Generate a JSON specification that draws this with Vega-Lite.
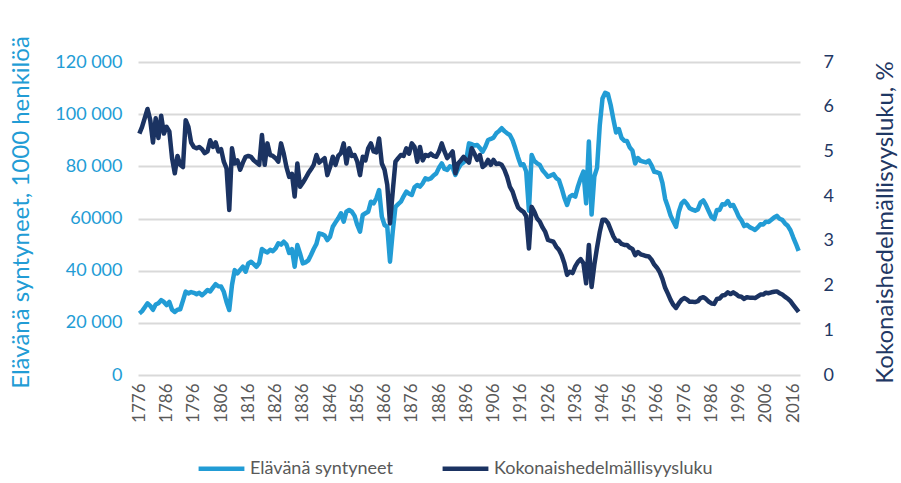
{
"$schema": "https://vega.github.io/schema/vega-lite/v6.json",
"width": 662, "height": 313,
"autosize": {"type": "none"},
"padding": {"left": 138, "top": 62, "right": 101, "bottom": 108},
"background": "white",
"config": {"view": {"stroke": null}, "font": "Lato"},
"data": {"values": [
{"vuosi":1776,"syntyneet":23600,"tfr":5.40},{"vuosi":1777,"syntyneet":24500,"tfr":5.55},{"vuosi":1778,"syntyneet":26000,"tfr":5.75},{"vuosi":1779,"syntyneet":27500,"tfr":5.95},{"vuosi":1780,"syntyneet":26500,"tfr":5.70},
{"vuosi":1781,"syntyneet":25000,"tfr":5.20},{"vuosi":1782,"syntyneet":27000,"tfr":5.74},{"vuosi":1783,"syntyneet":27500,"tfr":5.30},{"vuosi":1784,"syntyneet":28700,"tfr":5.80},{"vuosi":1785,"syntyneet":28000,"tfr":5.40},
{"vuosi":1786,"syntyneet":26800,"tfr":5.55},{"vuosi":1787,"syntyneet":28000,"tfr":5.45},{"vuosi":1788,"syntyneet":25000,"tfr":4.85},{"vuosi":1789,"syntyneet":24200,"tfr":4.51},{"vuosi":1790,"syntyneet":25000,"tfr":4.90},
{"vuosi":1791,"syntyneet":25200,"tfr":4.70},{"vuosi":1792,"syntyneet":28500,"tfr":4.65},{"vuosi":1793,"syntyneet":32000,"tfr":5.70},{"vuosi":1794,"syntyneet":31300,"tfr":5.55},{"vuosi":1795,"syntyneet":31800,"tfr":5.20},
{"vuosi":1796,"syntyneet":31500,"tfr":5.10},{"vuosi":1797,"syntyneet":31000,"tfr":5.07},{"vuosi":1798,"syntyneet":31500,"tfr":5.10},{"vuosi":1799,"syntyneet":30600,"tfr":5.05},{"vuosi":1800,"syntyneet":31500,"tfr":4.96},
{"vuosi":1801,"syntyneet":32600,"tfr":5.00},{"vuosi":1802,"syntyneet":32000,"tfr":5.25},{"vuosi":1803,"syntyneet":33500,"tfr":5.10},{"vuosi":1804,"syntyneet":34800,"tfr":5.20},{"vuosi":1805,"syntyneet":34000,"tfr":5.00},
{"vuosi":1806,"syntyneet":33900,"tfr":5.05},{"vuosi":1807,"syntyneet":31900,"tfr":4.77},{"vuosi":1808,"syntyneet":28000,"tfr":4.62},{"vuosi":1809,"syntyneet":24900,"tfr":3.69},{"vuosi":1810,"syntyneet":34500,"tfr":5.07},
{"vuosi":1811,"syntyneet":40200,"tfr":4.73},{"vuosi":1812,"syntyneet":39000,"tfr":4.80},{"vuosi":1813,"syntyneet":40300,"tfr":4.59},{"vuosi":1814,"syntyneet":41500,"tfr":4.75},{"vuosi":1815,"syntyneet":39600,"tfr":4.88},
{"vuosi":1816,"syntyneet":42800,"tfr":4.90},{"vuosi":1817,"syntyneet":43400,"tfr":4.88},{"vuosi":1818,"syntyneet":42500,"tfr":4.80},{"vuosi":1819,"syntyneet":41500,"tfr":4.75},{"vuosi":1820,"syntyneet":43000,"tfr":4.70},
{"vuosi":1821,"syntyneet":48300,"tfr":5.37},{"vuosi":1822,"syntyneet":47500,"tfr":4.70},{"vuosi":1823,"syntyneet":47000,"tfr":5.18},{"vuosi":1824,"syntyneet":48000,"tfr":4.92},{"vuosi":1825,"syntyneet":47500,"tfr":4.90},
{"vuosi":1826,"syntyneet":48500,"tfr":4.85},{"vuosi":1827,"syntyneet":50500,"tfr":4.77},{"vuosi":1828,"syntyneet":50000,"tfr":5.18},{"vuosi":1829,"syntyneet":51100,"tfr":4.95},{"vuosi":1830,"syntyneet":50000,"tfr":4.65},
{"vuosi":1831,"syntyneet":46800,"tfr":4.43},{"vuosi":1832,"syntyneet":48300,"tfr":4.50},{"vuosi":1833,"syntyneet":41500,"tfr":3.99},{"vuosi":1834,"syntyneet":49800,"tfr":4.73},{"vuosi":1835,"syntyneet":46500,"tfr":4.21},
{"vuosi":1836,"syntyneet":42800,"tfr":4.30},{"vuosi":1837,"syntyneet":43200,"tfr":4.40},{"vuosi":1838,"syntyneet":43950,"tfr":4.51},{"vuosi":1839,"syntyneet":46000,"tfr":4.60},{"vuosi":1840,"syntyneet":48300,"tfr":4.70},
{"vuosi":1841,"syntyneet":50250,"tfr":4.92},{"vuosi":1842,"syntyneet":54300,"tfr":4.75},{"vuosi":1843,"syntyneet":54000,"tfr":4.80},{"vuosi":1844,"syntyneet":53500,"tfr":4.85},{"vuosi":1845,"syntyneet":51750,"tfr":4.47},
{"vuosi":1846,"syntyneet":53000,"tfr":4.65},{"vuosi":1847,"syntyneet":56850,"tfr":4.88},{"vuosi":1848,"syntyneet":58500,"tfr":4.70},{"vuosi":1849,"syntyneet":60100,"tfr":4.90},{"vuosi":1850,"syntyneet":62000,"tfr":4.96},
{"vuosi":1851,"syntyneet":58800,"tfr":5.18},{"vuosi":1852,"syntyneet":62600,"tfr":4.73},{"vuosi":1853,"syntyneet":63250,"tfr":5.07},{"vuosi":1854,"syntyneet":62600,"tfr":4.90},{"vuosi":1855,"syntyneet":61000,"tfr":4.92},
{"vuosi":1856,"syntyneet":57500,"tfr":4.77},{"vuosi":1857,"syntyneet":54950,"tfr":4.47},{"vuosi":1858,"syntyneet":61350,"tfr":4.88},{"vuosi":1859,"syntyneet":62000,"tfr":4.80},{"vuosi":1860,"syntyneet":62600,"tfr":5.07},
{"vuosi":1861,"syntyneet":66450,"tfr":5.18},{"vuosi":1862,"syntyneet":65800,"tfr":5.00},{"vuosi":1863,"syntyneet":67750,"tfr":4.98},{"vuosi":1864,"syntyneet":70900,"tfr":5.29},{"vuosi":1865,"syntyneet":60700,"tfr":4.73},
{"vuosi":1866,"syntyneet":57500,"tfr":4.59},{"vuosi":1867,"syntyneet":56850,"tfr":4.25},{"vuosi":1868,"syntyneet":43450,"tfr":3.39},{"vuosi":1869,"syntyneet":54950,"tfr":4.10},{"vuosi":1870,"syntyneet":64500,"tfr":4.77},
{"vuosi":1871,"syntyneet":65500,"tfr":4.85},{"vuosi":1872,"syntyneet":66450,"tfr":4.92},{"vuosi":1873,"syntyneet":68500,"tfr":4.90},{"vuosi":1874,"syntyneet":70300,"tfr":5.07},{"vuosi":1875,"syntyneet":69500,"tfr":4.95},
{"vuosi":1876,"syntyneet":69000,"tfr":5.18},{"vuosi":1877,"syntyneet":72000,"tfr":5.10},{"vuosi":1878,"syntyneet":72850,"tfr":4.77},{"vuosi":1879,"syntyneet":72200,"tfr":5.10},{"vuosi":1880,"syntyneet":73500,"tfr":4.80},
{"vuosi":1881,"syntyneet":75400,"tfr":4.92},{"vuosi":1882,"syntyneet":75000,"tfr":4.90},{"vuosi":1883,"syntyneet":75400,"tfr":4.95},{"vuosi":1884,"syntyneet":76500,"tfr":4.90},{"vuosi":1885,"syntyneet":77300,"tfr":4.88},
{"vuosi":1886,"syntyneet":79500,"tfr":5.00},{"vuosi":1887,"syntyneet":81150,"tfr":5.18},{"vuosi":1888,"syntyneet":79000,"tfr":5.00},{"vuosi":1889,"syntyneet":78600,"tfr":4.85},{"vuosi":1890,"syntyneet":80000,"tfr":4.92},
{"vuosi":1891,"syntyneet":79500,"tfr":5.00},{"vuosi":1892,"syntyneet":76700,"tfr":4.51},{"vuosi":1893,"syntyneet":79000,"tfr":4.73},{"vuosi":1894,"syntyneet":80750,"tfr":4.80},{"vuosi":1895,"syntyneet":81500,"tfr":4.88},
{"vuosi":1896,"syntyneet":82450,"tfr":4.81},{"vuosi":1897,"syntyneet":88800,"tfr":4.75},{"vuosi":1898,"syntyneet":88500,"tfr":5.07},{"vuosi":1899,"syntyneet":88000,"tfr":4.95},{"vuosi":1900,"syntyneet":88200,"tfr":4.81},
{"vuosi":1901,"syntyneet":87000,"tfr":4.92},{"vuosi":1902,"syntyneet":85600,"tfr":4.65},{"vuosi":1903,"syntyneet":87500,"tfr":4.70},{"vuosi":1904,"syntyneet":90100,"tfr":4.81},{"vuosi":1905,"syntyneet":90500,"tfr":4.70},
{"vuosi":1906,"syntyneet":91000,"tfr":4.81},{"vuosi":1907,"syntyneet":92650,"tfr":4.72},{"vuosi":1908,"syntyneet":93500,"tfr":4.73},{"vuosi":1909,"syntyneet":94600,"tfr":4.70},{"vuosi":1910,"syntyneet":93500,"tfr":4.59},
{"vuosi":1911,"syntyneet":92650,"tfr":4.43},{"vuosi":1912,"syntyneet":92000,"tfr":4.21},{"vuosi":1913,"syntyneet":90000,"tfr":4.10},{"vuosi":1914,"syntyneet":86900,"tfr":3.91},{"vuosi":1915,"syntyneet":83500,"tfr":3.75},
{"vuosi":1916,"syntyneet":80500,"tfr":3.69},{"vuosi":1917,"syntyneet":80800,"tfr":3.65},{"vuosi":1918,"syntyneet":78000,"tfr":3.55},{"vuosi":1919,"syntyneet":63000,"tfr":2.83},{"vuosi":1920,"syntyneet":84350,"tfr":3.76},
{"vuosi":1921,"syntyneet":82000,"tfr":3.65},{"vuosi":1922,"syntyneet":81150,"tfr":3.50},{"vuosi":1923,"syntyneet":80500,"tfr":3.43},{"vuosi":1924,"syntyneet":78500,"tfr":3.30},{"vuosi":1925,"syntyneet":77300,"tfr":3.20},
{"vuosi":1926,"syntyneet":76000,"tfr":3.02},{"vuosi":1927,"syntyneet":76500,"tfr":3.00},{"vuosi":1928,"syntyneet":77000,"tfr":2.98},{"vuosi":1929,"syntyneet":75500,"tfr":2.87},{"vuosi":1930,"syntyneet":74750,"tfr":2.80},
{"vuosi":1931,"syntyneet":71600,"tfr":2.68},{"vuosi":1932,"syntyneet":68000,"tfr":2.50},{"vuosi":1933,"syntyneet":65200,"tfr":2.24},{"vuosi":1934,"syntyneet":68400,"tfr":2.31},{"vuosi":1935,"syntyneet":69000,"tfr":2.28},
{"vuosi":1936,"syntyneet":68400,"tfr":2.43},{"vuosi":1937,"syntyneet":72300,"tfr":2.53},{"vuosi":1938,"syntyneet":75400,"tfr":2.59},{"vuosi":1939,"syntyneet":78000,"tfr":2.50},{"vuosi":1940,"syntyneet":65800,"tfr":2.05},
{"vuosi":1941,"syntyneet":89500,"tfr":2.91},{"vuosi":1942,"syntyneet":61500,"tfr":1.97},{"vuosi":1943,"syntyneet":76100,"tfr":2.46},{"vuosi":1944,"syntyneet":79400,"tfr":2.85},{"vuosi":1945,"syntyneet":95700,"tfr":3.20},
{"vuosi":1946,"syntyneet":106000,"tfr":3.47},{"vuosi":1947,"syntyneet":108200,"tfr":3.47},{"vuosi":1948,"syntyneet":107700,"tfr":3.40},{"vuosi":1949,"syntyneet":103500,"tfr":3.25},{"vuosi":1950,"syntyneet":98000,"tfr":3.10},
{"vuosi":1951,"syntyneet":93000,"tfr":3.00},{"vuosi":1952,"syntyneet":94300,"tfr":3.00},{"vuosi":1953,"syntyneet":90900,"tfr":2.93},{"vuosi":1954,"syntyneet":89800,"tfr":2.91},{"vuosi":1955,"syntyneet":89700,"tfr":2.91},
{"vuosi":1956,"syntyneet":87300,"tfr":2.85},{"vuosi":1957,"syntyneet":86000,"tfr":2.82},{"vuosi":1958,"syntyneet":81100,"tfr":2.68},{"vuosi":1959,"syntyneet":83200,"tfr":2.75},{"vuosi":1960,"syntyneet":82100,"tfr":2.70},
{"vuosi":1961,"syntyneet":81800,"tfr":2.68},{"vuosi":1962,"syntyneet":81500,"tfr":2.66},{"vuosi":1963,"syntyneet":82200,"tfr":2.65},{"vuosi":1964,"syntyneet":80400,"tfr":2.58},{"vuosi":1965,"syntyneet":77900,"tfr":2.47},
{"vuosi":1966,"syntyneet":77700,"tfr":2.40},{"vuosi":1967,"syntyneet":77300,"tfr":2.30},{"vuosi":1968,"syntyneet":73700,"tfr":2.15},{"vuosi":1969,"syntyneet":67500,"tfr":1.95},{"vuosi":1970,"syntyneet":64500,"tfr":1.82},
{"vuosi":1971,"syntyneet":61100,"tfr":1.68},{"vuosi":1972,"syntyneet":58900,"tfr":1.57},{"vuosi":1973,"syntyneet":56800,"tfr":1.50},{"vuosi":1974,"syntyneet":62500,"tfr":1.60},{"vuosi":1975,"syntyneet":65700,"tfr":1.68},
{"vuosi":1976,"syntyneet":66800,"tfr":1.72},{"vuosi":1977,"syntyneet":65600,"tfr":1.69},{"vuosi":1978,"syntyneet":63900,"tfr":1.64},{"vuosi":1979,"syntyneet":63400,"tfr":1.64},{"vuosi":1980,"syntyneet":63000,"tfr":1.63},
{"vuosi":1981,"syntyneet":63500,"tfr":1.65},{"vuosi":1982,"syntyneet":66100,"tfr":1.72},{"vuosi":1983,"syntyneet":66900,"tfr":1.74},{"vuosi":1984,"syntyneet":65100,"tfr":1.70},{"vuosi":1985,"syntyneet":62800,"tfr":1.64},
{"vuosi":1986,"syntyneet":60600,"tfr":1.60},{"vuosi":1987,"syntyneet":59800,"tfr":1.59},{"vuosi":1988,"syntyneet":63300,"tfr":1.70},{"vuosi":1989,"syntyneet":63300,"tfr":1.71},{"vuosi":1990,"syntyneet":65500,"tfr":1.78},
{"vuosi":1991,"syntyneet":65400,"tfr":1.79},{"vuosi":1992,"syntyneet":66700,"tfr":1.85},{"vuosi":1993,"syntyneet":64800,"tfr":1.81},{"vuosi":1994,"syntyneet":65200,"tfr":1.85},{"vuosi":1995,"syntyneet":63100,"tfr":1.81},
{"vuosi":1996,"syntyneet":60700,"tfr":1.76},{"vuosi":1997,"syntyneet":59300,"tfr":1.75},{"vuosi":1998,"syntyneet":57100,"tfr":1.70},{"vuosi":1999,"syntyneet":57600,"tfr":1.74},{"vuosi":2000,"syntyneet":56700,"tfr":1.73},
{"vuosi":2001,"syntyneet":56200,"tfr":1.73},{"vuosi":2002,"syntyneet":55600,"tfr":1.72},{"vuosi":2003,"syntyneet":56600,"tfr":1.76},{"vuosi":2004,"syntyneet":57800,"tfr":1.80},{"vuosi":2005,"syntyneet":57700,"tfr":1.80},
{"vuosi":2006,"syntyneet":58800,"tfr":1.84},{"vuosi":2007,"syntyneet":58700,"tfr":1.83},{"vuosi":2008,"syntyneet":59500,"tfr":1.85},{"vuosi":2009,"syntyneet":60400,"tfr":1.86},{"vuosi":2010,"syntyneet":61000,"tfr":1.87},
{"vuosi":2011,"syntyneet":59900,"tfr":1.83},{"vuosi":2012,"syntyneet":59500,"tfr":1.80},{"vuosi":2013,"syntyneet":58100,"tfr":1.75},{"vuosi":2014,"syntyneet":57200,"tfr":1.71},{"vuosi":2015,"syntyneet":55500,"tfr":1.65},
{"vuosi":2016,"syntyneet":52800,"tfr":1.57},{"vuosi":2017,"syntyneet":50300,"tfr":1.49},{"vuosi":2018,"syntyneet":47600,"tfr":1.41}
]},
"encoding": {
  "x": {"field": "vuosi", "type": "quantitative",
    "scale": {"domain": [1775.5, 2018.5], "nice": false, "zero": false},
    "axis": {"values": [1776,1786,1796,1806,1816,1826,1836,1846,1856,1866,1876,1886,1896,1906,1916,1926,1936,1946,1956,1966,1976,1986,1996,2006,2016],
      "format": "d", "labelAngle": -90, "labelFont": "Lato", "labelFontSize": 17, "labelColor": "#595959",
      "labelPadding": 8, "labelOverlap": false, "ticks": false, "domain": false, "grid": false, "title": null}}
},
"layer": [
  {"mark": {"type": "line", "strokeWidth": 4.5, "strokeJoin": "round"},
   "encoding": {
     "y": {"field": "syntyneet", "type": "quantitative",
       "scale": {"domain": [0, 120000], "nice": false},
       "axis": {"values": [0,20000,40000,60000,80000,100000,120000],
         "labelExpr": "datum.value == 60000 ? '60000' : replace(format(datum.value, ','), ',', ' ')",
         "labelFont": "Lato", "labelFontSize": 18, "labelColor": "#229cd5", "labelPadding": 16,
         "ticks": false, "domain": false, "grid": true, "gridColor": "#d9d9d9", "gridWidth": 2,
         "title": "Elävänä syntyneet, 1000 henkilöä", "titleFont": "Lato", "titleFontSize": 24, "titleFontWeight": "normal",
         "titleColor": "#229cd5", "titleAngle": 270, "titleX": -117, "titleY": 150, "titleAlign": "center", "titleBaseline": "middle"}},
     "color": {"datum": "Elävänä syntyneet", "type": "nominal",
       "scale": {"domain": ["Elävänä syntyneet", "Kokonaishedelmällisyysluku"], "range": ["#229cd5", "#1b3362"]},
       "legend": {"orient": "none", "legendX": 58, "legendY": 381, "direction": "horizontal", "title": null,
         "symbolType": "stroke", "symbolStrokeWidth": 4.5, "symbolSize": 2100,
         "labelFont": "Lato", "labelFontSize": 18, "labelLimit": 400, "labelColor": "#595959", "labelOffset": 3, "columnPadding": 40}}
   }},
  {"mark": {"type": "line", "strokeWidth": 4.5, "strokeJoin": "round"},
   "encoding": {
     "y": {"field": "tfr", "type": "quantitative",
       "scale": {"domain": [0, 7], "nice": false},
       "axis": {"orient": "right", "values": [0,1,2,3,4,5,6,7],
         "labelFont": "Lato", "labelFontSize": 18, "labelColor": "#1f3864", "labelPadding": 23,
         "ticks": false, "domain": false, "grid": false,
         "title": "Kokonaishedelmällisyysluku, %", "titleFont": "Lato", "titleFontSize": 24, "titleFontWeight": "normal",
         "titleColor": "#1f3864", "titleAngle": 270, "titleX": 85, "titleY": 160, "titleAlign": "center", "titleBaseline": "middle"}},
     "color": {"datum": "Kokonaishedelmällisyysluku", "type": "nominal"}
   }}
],
"resolve": {"scale": {"y": "independent"}}
}
